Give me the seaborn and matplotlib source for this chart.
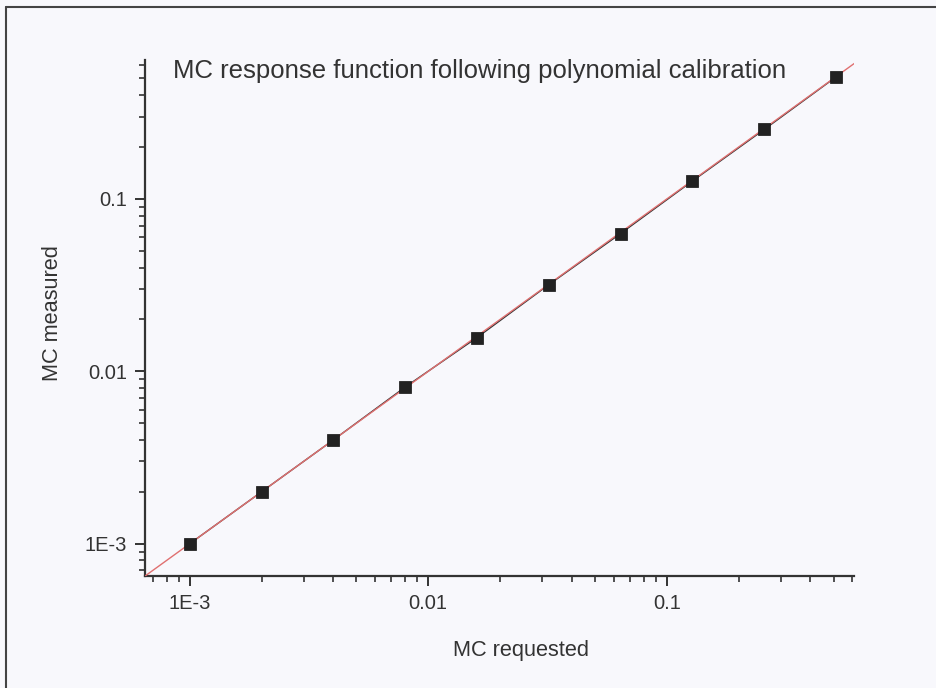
import matplotlib
matplotlib.use("Agg")
import matplotlib.pyplot as plt
import matplotlib.ticker as mticker
from matplotlib.lines import Line2D
import seaborn as sns
import pandas as pd

# Data
mc_requested = [0.001, 0.002, 0.004, 0.008, 0.016, 0.032, 0.064, 0.128, 0.256, 0.512]
mc_measured = [0.001, 0.002, 0.004, 0.0081, 0.0157, 0.0318, 0.063, 0.127, 0.253, 0.51]
fit_x = [0.00065, 0.63]
fit_y = [0.00065, 0.63]
title = "MC response function following polynomial calibration"
xlabel = "MC requested"
ylabel = "MC measured"

sns.set_style("ticks")
plt.rcParams['font.family'] = ['Liberation Sans', 'DejaVu Sans']

bg = "#f8f8fc"
fig = plt.figure(figsize=(9.36, 6.88), dpi=100, facecolor=bg)
ax = fig.add_axes([0.155, 0.1628, 0.7575, 0.75])
ax.set_facecolor(bg)

df = pd.DataFrame({"req": mc_requested, "meas": mc_measured})
dfit = pd.DataFrame({"x": fit_x, "y": fit_y})

sns.lineplot(x="req", y="meas", data=df, ax=ax, color="#333333", lw=1.0, zorder=2)
sns.lineplot(x="x", y="y", data=dfit, ax=ax, color="#e07070", lw=1.0, zorder=3)
sns.scatterplot(x="req", y="meas", data=df, ax=ax, marker="s", s=70,
                color="#222222", edgecolor="#111111", linewidth=0.5, zorder=4)

ax.set_xscale("log")
ax.set_yscale("log")
ax.set_xlim(0.00065, 0.61)
ax.set_ylim(0.00065, 0.64)

def fmt(v, pos):
    if abs(v - 0.001) < 1e-9:
        return "1E-3"
    if abs(v - 0.01) < 1e-9:
        return "0.01"
    if abs(v - 0.1) < 1e-9:
        return "0.1"
    return ""

for axis in (ax.xaxis, ax.yaxis):
    axis.set_major_locator(mticker.LogLocator(base=10))
    axis.set_minor_locator(mticker.LogLocator(base=10, subs=range(2, 10)))
    axis.set_major_formatter(mticker.FuncFormatter(fmt))
    axis.set_minor_formatter(mticker.NullFormatter())

sns.despine(ax=ax)
for sp in ("left", "bottom"):
    ax.spines[sp].set_color("#333333")
    ax.spines[sp].set_linewidth(1.6)

ax.tick_params(which="major", direction="out", length=7, width=1.4, color="#333333",
               labelsize=14.5, labelcolor="#333333", pad=6)
ax.tick_params(which="minor", direction="out", length=4.3, width=1.2, color="#333333")

ax.set_xlabel(xlabel, fontsize=15.7, color="#333333")
ax.set_ylabel(ylabel, fontsize=15.7, color="#333333")
ax.xaxis.set_label_coords(0.53, -0.124)
ax.yaxis.set_label_coords(-0.116, 0.51)

ax.text(0.04, 0.978, title, transform=ax.transAxes, fontsize=18.5, color="#333333",
        ha="left", va="center")

# Figure frame (top and left)
fig.add_artist(Line2D([0.006, 1.0], [0.99, 0.99], transform=fig.transFigure,
                      color="#444444", lw=1.5))
fig.add_artist(Line2D([0.006, 0.006], [0.0, 0.99], transform=fig.transFigure,
                      color="#444444", lw=1.5))

fig.savefig("out.png", dpi=100, facecolor=bg)
